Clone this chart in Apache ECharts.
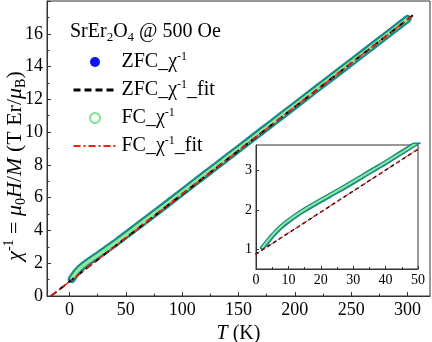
<!DOCTYPE html>
<html>
<head>
<meta charset="utf-8">
<script src="https://cdn.jsdelivr.net/npm/echarts@6/dist/echarts.min.js"></script>
<style>
  html, body { margin: 0; padding: 0; background: #fff; }
  #chart { width: 432px; height: 342px; }
</style>
</head>
<body>
<div id="chart"></div>
<script>
var chart = echarts.init(document.getElementById("chart"));

// measured inverse susceptibility (T Er / muB) vs temperature (K)
var tempK = [2, 3, 4, 5, 6, 8, 10, 12, 15, 20, 25, 30, 35, 40, 45, 50, 60, 70, 80, 100, 120, 140, 160, 180, 200, 220, 240, 260, 280, 300];
var zfcInv = [1.04, 1.14, 1.24, 1.34, 1.43, 1.59, 1.72, 1.84, 2.0, 2.24, 2.47, 2.71, 2.96, 3.2, 3.46, 3.72, 4.24, 4.76, 5.28, 6.34, 7.4, 8.45, 9.51, 10.56, 11.62, 12.68, 13.73, 14.79, 15.84, 16.9];
var fcInv = [1.05, 1.15, 1.25, 1.35, 1.44, 1.6, 1.73, 1.85, 2.01, 2.25, 2.48, 2.72, 2.96, 3.21, 3.46, 3.72, 4.24, 4.76, 5.28, 6.34, 7.4, 8.45, 9.5, 10.56, 11.62, 12.67, 13.73, 14.78, 15.84, 16.89];

// Curie-Weiss fit lines (end points)
var zfcFitT = [-16.5, 306];
var zfcFitY = [0, 17.19];
var fcFitT = [-16.5, 303];
var fcFitY = [0, 17.03];

// tick labels
var xMajor = [0, 50, 100, 150, 200, 250, 300];
var xMinor = [25, 75, 125, 175, 225, 275];
var insetYTicks = [1, 2, 3];

var serif = "Liberation Serif";
var axisColor = "#333";

function pairs(xs, ys) {
  return xs.map(function (x, i) { return [x, ys[i]]; });
}

var legendText = {
  "ZFC": "ZFC_χ{sup|-1}",
  "ZFC fit": "ZFC_χ{sup|-1}_fit",
  "FC": "FC_χ{sup|-1}",
  "FC fit": "FC_χ{sup|-1}_fit"
};

var supStyle = { fontFamily: serif, fontSize: 12, lineHeight: 12, verticalAlign: "top", color: "#000" };
var itStyle = { fontFamily: serif, fontSize: 20, lineHeight: 24, fontStyle: "italic", color: "#000" };

function dataSeries(name, ys, xi, yi, color, width, z) {
  return {
    name: name,
    type: "line",
    xAxisIndex: xi,
    yAxisIndex: yi,
    data: pairs(tempK, ys),
    symbol: "none",
    smooth: 0.3,
    z: z,
    lineStyle: { color: color, width: width, cap: "round", join: "round" },
    itemStyle: { color: color }
  };
}

function fitSeries(name, xs, ys, xi, yi, color, width, dash, z) {
  return {
    name: name,
    type: "line",
    xAxisIndex: xi,
    yAxisIndex: yi,
    data: pairs(xs, ys),
    symbol: "none",
    z: z,
    lineStyle: { color: color, width: width, type: dash },
    itemStyle: { color: color }
  };
}

var option = {
  animation: false,
  textStyle: { fontFamily: serif },
  graphic: [
    {
      type: "text",
      left: 70,
      top: 20,
      style: {
        text: "SrEr{sub|2}O{sub|4} @ 500 Oe",
        fontFamily: serif, fontSize: 20, fill: "#000", lineHeight: 24,
        rich: {
          sub: { fontFamily: serif, fontSize: 13, lineHeight: 13, verticalAlign: "bottom", fill: "#000" }
        }
      }
    },
    {
      type: "text",
      x: 15,
      y: 166,
      rotation: Math.PI / 2,
      style: {
        text: "{it|χ}{sup|-1} = {it|μ}{sub|0}{it|H}/{it|M} (T Er/{it|μ}{sub|B})",
        align: "center",
        verticalAlign: "middle",
        fontFamily: serif, fontSize: 22, fill: "#000", lineHeight: 26,
        rich: {
          it: { fontFamily: serif, fontSize: 22, lineHeight: 26, fontStyle: "italic", fill: "#000" },
          sup: { fontFamily: serif, fontSize: 14, lineHeight: 14, verticalAlign: "top", fill: "#000" },
          sub: { fontFamily: serif, fontSize: 14, lineHeight: 14, verticalAlign: "bottom", fill: "#000" }
        }
      }
    }
  ],
  legend: {
    orient: "vertical",
    left: 72,
    top: 51,
    padding: 0,
    itemWidth: 43,
    itemHeight: 10,
    itemGap: 6,
    selectedMode: false,
    formatter: function (name) { return legendText[name]; },
    textStyle: {
      fontFamily: serif, fontSize: 20, color: "#000", lineHeight: 22,
      rich: { sup: supStyle }
    },
    data: [
      { name: "ZFC", icon: "circle", itemStyle: { color: "#0b16f2", borderWidth: 0 } },
      { name: "ZFC fit", itemStyle: { opacity: 0 }, lineStyle: { width: 3 } },
      { name: "FC", icon: "emptyCircle", itemStyle: { color: "#78e08c" } },
      { name: "FC fit", itemStyle: { opacity: 0 }, lineStyle: { width: 2 } }
    ]
  },
  grid: [
    { left: 47, top: 1, right: 2, bottom: 46, show: true, borderColor: axisColor, borderWidth: 1, outerBoundsMode: "none" },
    { left: 256, top: 145, right: 14, bottom: 73, show: true, borderColor: axisColor, borderWidth: 1, outerBoundsMode: "none" }
  ],
  xAxis: [
    {
      gridIndex: 0, type: "value", min: -20, max: 320,
      axisLine: { onZero: false, lineStyle: { color: axisColor } },
      axisTick: { inside: true, length: 4, customValues: xMajor, lineStyle: { color: axisColor } },
      axisLabel: { customValues: xMajor, fontFamily: serif, fontSize: 18, color: "#000", margin: 5 },
      splitLine: { show: false },
      name: "{it|T} (K)",
      nameLocation: "middle",
      nameGap: 26,
      nameMoveOverlap: false,
      nameTextStyle: { fontFamily: serif, fontSize: 20, color: "#000", lineHeight: 24, rich: { it: itStyle } }
    },
    {
      gridIndex: 0, type: "value", min: -20, max: 320, position: "bottom",
      axisLine: { show: false, onZero: false },
      axisTick: { inside: true, length: 2.5, customValues: xMinor, lineStyle: { color: axisColor } },
      axisLabel: { show: false },
      splitLine: { show: false }
    },
    {
      gridIndex: 1, type: "value", min: 0, max: 50, interval: 10,
      axisLine: { onZero: false, lineStyle: { color: axisColor } },
      axisTick: { inside: true, length: 3, lineStyle: { color: axisColor } },
      minorTick: { show: true, splitNumber: 2, length: 2, lineStyle: { color: axisColor } },
      axisLabel: { fontFamily: serif, fontSize: 14, color: "#000", margin: 4 },
      splitLine: { show: false }
    }
  ],
  yAxis: [
    {
      gridIndex: 0, type: "value", min: 0, max: 18, interval: 2,
      axisLine: { onZero: false, lineStyle: { color: axisColor } },
      axisTick: { inside: true, length: 4, lineStyle: { color: axisColor } },
      minorTick: { show: true, splitNumber: 2, length: 2.5, lineStyle: { color: axisColor } },
      axisLabel: {
        fontFamily: serif, fontSize: 18, color: "#000", margin: 4,
        formatter: function (v) { return v >= 18 ? "" : String(v); }
      },
      splitLine: { show: false }
    },
    {
      gridIndex: 1, type: "value", min: 0.5, max: 3.65,
      axisLine: { onZero: false, lineStyle: { color: axisColor } },
      axisTick: { inside: true, length: 3, customValues: insetYTicks, lineStyle: { color: axisColor } },
      axisLabel: { customValues: insetYTicks, fontFamily: serif, fontSize: 14, color: "#000", margin: 4 },
      splitLine: { show: false }
    }
  ],
  series: [
    dataSeries("ZFC", zfcInv, 0, 0, "#1a8a88", 8, 2),
    dataSeries("FC", fcInv, 0, 0, "#8ceb98", 3.5, 3),
    fitSeries("ZFC fit", zfcFitT, zfcFitY, 0, 0, "#000", 2, [7, 4], 4),
    fitSeries("FC fit", fcFitT, fcFitY, 0, 0, "#ff1a1a", 1.5, [7, 3, 2, 3], 5),
    dataSeries("ZFC", zfcInv, 2, 1, "#1a8a88", 5, 2),
    dataSeries("FC", fcInv, 2, 1, "#8ceb98", 2, 3),
    fitSeries("ZFC fit", zfcFitT, zfcFitY, 2, 1, "#000", 1.5, [4, 3], 4),
    fitSeries("FC fit", fcFitT, fcFitY, 2, 1, "#ff1a1a", 1, [5, 2, 1, 2], 5)
  ]
};

chart.setOption(option);
</script>
</body>
</html>
